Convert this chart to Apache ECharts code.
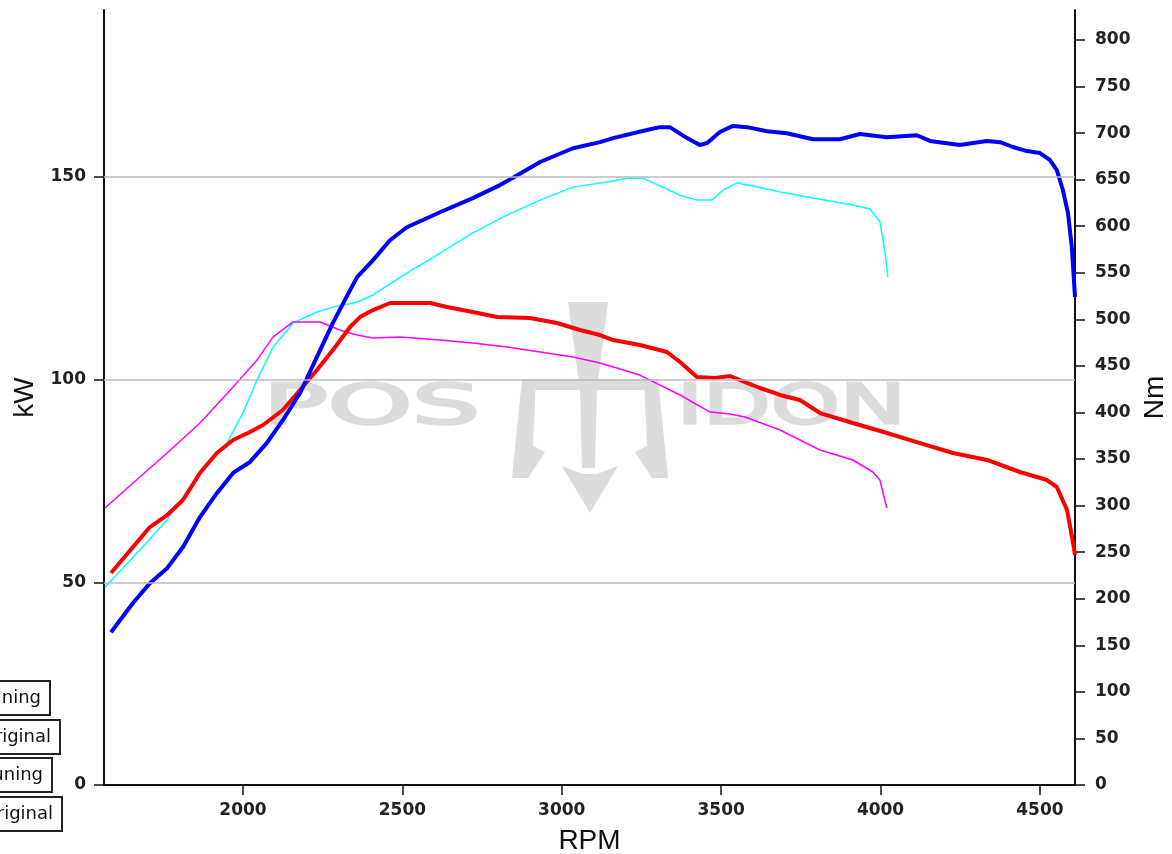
<!DOCTYPE html>
<html>
<head>
<meta charset="utf-8">
<script src="https://cdn.jsdelivr.net/npm/echarts@6/dist/echarts.min.js"></script>
<style>
  html, body { margin: 0; padding: 0; background: #fff; }
  #chart { width: 1172px; height: 854px; }
</style>
</head>
<body>
<div id="chart"></div>
<script>
// tick labels
var rpmTicks = [2000, 2500, 3000, 3500, 4000, 4500];
var kwTicks = [0, 50, 100, 150];
var nmTicks = [0, 50, 100, 150, 200, 250, 300, 350, 400, 450, 500, 550, 600, 650, 700, 750, 800];
var kwGrid = [50, 100, 150];

// power after tuning (kW)
var rpmPowerTuning = [1586, 1655, 1708, 1762, 1812, 1865, 1918, 1969, 2022, 2075, 2125, 2179, 2232, 2282, 2336, 2358, 2408, 2461, 2514, 2618, 2721, 2806, 2847, 2932, 3035, 3120, 3161, 3267, 3308, 3339, 3393, 3433, 3456, 3496, 3537, 3581, 3644, 3706, 3788, 3873, 3935, 4020, 4114, 4155, 4249, 4290, 4334, 4375, 4415, 4459, 4500, 4531, 4553, 4572, 4588, 4600, 4610];
var powerTuning = [37.7, 44.9, 49.8, 53.5, 58.7, 66.1, 72.0, 77.0, 79.7, 84.4, 90.0, 96.7, 105.6, 114.0, 122.1, 125.3, 129.5, 134.4, 137.6, 141.3, 144.8, 148.0, 149.8, 153.7, 157.1, 158.6, 159.6, 161.6, 162.3, 162.3, 159.6, 157.9, 158.4, 161.1, 162.6, 162.3, 161.3, 160.8, 159.3, 159.3, 160.6, 159.8, 160.3, 158.9, 157.9, 158.4, 158.9, 158.6, 157.4, 156.4, 155.9, 154.2, 151.7, 146.8, 141.1, 132.7, 120.4];

// torque after tuning (Nm)
var rpmTorqueTuning = [1586, 1655, 1708, 1762, 1812, 1865, 1918, 1969, 2022, 2063, 2125, 2179, 2232, 2282, 2336, 2367, 2408, 2461, 2587, 2640, 2721, 2797, 2900, 2985, 3057, 3120, 3161, 3245, 3330, 3371, 3424, 3481, 3528, 3575, 3622, 3685, 3747, 3810, 3913, 4020, 4124, 4227, 4334, 4437, 4522, 4553, 4585, 4604, 4610];
var torqueTuning = [227.6, 255.6, 277.0, 289.9, 306.0, 335.0, 356.5, 370.4, 379.0, 386.6, 402.7, 424.2, 445.6, 467.1, 491.8, 502.5, 510.0, 517.6, 517.6, 513.3, 507.9, 502.5, 501.4, 496.1, 488.6, 483.2, 477.8, 472.5, 465.0, 454.2, 438.1, 437.0, 439.2, 432.7, 426.3, 418.8, 413.4, 399.4, 388.7, 378.0, 367.2, 356.5, 349.0, 336.1, 327.5, 320.0, 295.3, 259.9, 247.0];

// power original (kW)
var rpmPowerOriginal = [1567, 1655, 1762, 1865, 1950, 2000, 2044, 2094, 2157, 2232, 2282, 2358, 2408, 2514, 2618, 2721, 2828, 2932, 3035, 3161, 3205, 3255, 3317, 3371, 3424, 3471, 3506, 3550, 3600, 3685, 3788, 3913, 3967, 3998, 4004, 4014, 4023];
var powerOriginal = [48.8, 56.2, 65.4, 77.0, 84.4, 91.8, 99.9, 108.0, 114.0, 116.7, 117.9, 119.1, 120.9, 126.3, 131.2, 136.2, 140.6, 144.3, 147.5, 149.0, 149.7, 149.7, 147.5, 145.5, 144.3, 144.3, 146.8, 148.5, 147.8, 146.3, 144.8, 143.1, 142.1, 138.9, 136.2, 131.2, 125.3];

// torque original (Nm)
var rpmTorqueOriginal = [1567, 1655, 1762, 1865, 1969, 2044, 2094, 2157, 2242, 2304, 2358, 2408, 2492, 2618, 2721, 2828, 2932, 3035, 3120, 3245, 3371, 3465, 3528, 3575, 3685, 3810, 3913, 3976, 3998, 4008, 4020];
var torqueOriginal = [297.4, 324.3, 356.5, 388.7, 427.4, 456.3, 481.0, 497.2, 497.2, 488.6, 483.2, 480.0, 481.0, 477.8, 474.6, 470.3, 464.9, 459.6, 453.1, 440.2, 418.8, 400.5, 398.4, 395.1, 381.2, 359.7, 349.0, 336.1, 327.5, 313.5, 297.4];

function pairs(xs, ys) {
  return xs.map(function (x, i) {
    return [x, ys[i]];
  });
}

function plain(v) {
  return String(v);
}

var tickFont = {
  fontFamily: "DejaVu Sans",
  fontWeight: "bold",
  fontSize: 17,
  color: "#222",
};
var nameFont = {
  fontFamily: "Liberation Sans",
  fontSize: 28,
  color: "#111",
};
var wmColor = "#dcdcdc";

function legendBox(text, right, top) {
  return {
    type: "text",
    x: right,
    y: top,
    silent: true,
    style: {
      text: text,
      align: "right",
      verticalAlign: "top",
      font: "18px 'DejaVu Sans'",
      fill: "#111",
      backgroundColor: "#fff",
      borderColor: "#222",
      borderWidth: 2,
      padding: [7, 8, 7, 8],
    },
  };
}

function wmText(text, x, sx) {
  return {
    type: "text",
    x: x,
    y: 381,
    scaleX: sx,
    style: {
      text: text,
      font: "55px 'DejaVu Sans'",
      fill: wmColor,
      stroke: wmColor,
      lineWidth: 2.5,
    },
  };
}

var chart = echarts.init(document.getElementById("chart"));
var option = {
  animation: false,
  backgroundColor: "#fff",
  grid: { left: 104, right: 97, top: 10, bottom: 69, containLabel: false, outerBoundsMode: "none" },
  xAxis: {
    type: "value",
    min: 1564,
    max: 4610,
    name: "RPM",
    nameLocation: "middle",
    nameGap: 42,
    nameTextStyle: nameFont,
    axisLine: { lineStyle: { color: "#111", width: 2 } },
    axisTick: { length: 10, customValues: rpmTicks, lineStyle: { color: "#111", width: 1.5 } },
    axisLabel: Object.assign({ customValues: rpmTicks, margin: 17, formatter: plain }, tickFont),
    splitLine: { show: false },
  },
  yAxis: [
    {
      type: "value",
      position: "left",
      min: 0,
      max: 191.2,
      name: "kW",
      nameLocation: "middle",
      nameGap: 61,
      nameTextStyle: nameFont,
      axisLine: { show: true, lineStyle: { color: "#111", width: 2 } },
      axisTick: { show: true, length: 10, customValues: kwTicks, lineStyle: { color: "#111", width: 1.5 } },
      axisLabel: Object.assign({ customValues: kwTicks, margin: 18, formatter: plain }, tickFont),
      splitLine: { show: false },
    },
    {
      type: "value",
      position: "right",
      min: 0,
      max: 832.2,
      name: "Nm",
      nameLocation: "middle",
      nameGap: 66,
      nameTextStyle: nameFont,
      axisLine: { show: true, lineStyle: { color: "#111", width: 2 } },
      axisTick: { show: true, length: 10, customValues: nmTicks, lineStyle: { color: "#111", width: 1.5 } },
      axisLabel: Object.assign({ customValues: nmTicks, margin: 20, formatter: plain }, tickFont),
      splitLine: { show: false },
    },
  ],
  graphic: [
    // watermark
    {
      type: "group",
      silent: true,
      z: -10,
      children: [
        wmText("POS", 263, 1.95),
        wmText("IDON", 677, 1.6),
        { type: "polygon", shape: { points: [[568, 302], [608, 302], [597, 390], [595, 468], [582, 468], [580, 390]] }, style: { fill: wmColor } },
        { type: "polygon", shape: { points: [[562, 466], [583, 474], [597, 474], [618, 466], [590, 513]] }, style: { fill: wmColor } },
        { type: "rect", shape: { x: 522, y: 379, width: 136, height: 11 }, style: { fill: wmColor } },
        { type: "polygon", shape: { points: [[522, 379], [536, 379], [533, 446], [545, 452], [528, 478], [512, 478]] }, style: { fill: wmColor } },
        { type: "polygon", shape: { points: [[658, 379], [644, 379], [647, 446], [635, 452], [652, 478], [668, 478]] }, style: { fill: wmColor } },
      ],
    },
    legendBox("kW Tuning", 49, 682),
    legendBox("kW Original", 59, 721),
    legendBox("Nm Tuning", 51, 759),
    legendBox("Nm Original", 61, 798),
  ],
  series: [
    {
      name: "kW Original",
      type: "line",
      yAxisIndex: 0,
      showSymbol: false,
      data: pairs(rpmPowerOriginal, powerOriginal),
      lineStyle: { color: "#00ffff", width: 1.5 },
      itemStyle: { color: "#00ffff" },
      markLine: {
        silent: true,
        symbol: "none",
        label: { show: false },
        lineStyle: { color: "#bbbbbb", width: 1.5, type: "solid" },
        data: kwGrid.map(function (v) {
          return { yAxis: v };
        }),
      },
    },
    {
      name: "Nm Original",
      type: "line",
      yAxisIndex: 1,
      showSymbol: false,
      data: pairs(rpmTorqueOriginal, torqueOriginal),
      lineStyle: { color: "#ff00ff", width: 1.5 },
      itemStyle: { color: "#ff00ff" },
    },
    {
      name: "Nm Tuning",
      type: "line",
      yAxisIndex: 1,
      showSymbol: false,
      data: pairs(rpmTorqueTuning, torqueTuning),
      lineStyle: { color: "#ff0000", width: 4 },
      itemStyle: { color: "#ff0000" },
    },
    {
      name: "kW Tuning",
      type: "line",
      yAxisIndex: 0,
      showSymbol: false,
      data: pairs(rpmPowerTuning, powerTuning),
      lineStyle: { color: "#0000ff", width: 4 },
      itemStyle: { color: "#0000ff" },
    },
  ],
};
chart.setOption(option);
</script>
</body>
</html>
